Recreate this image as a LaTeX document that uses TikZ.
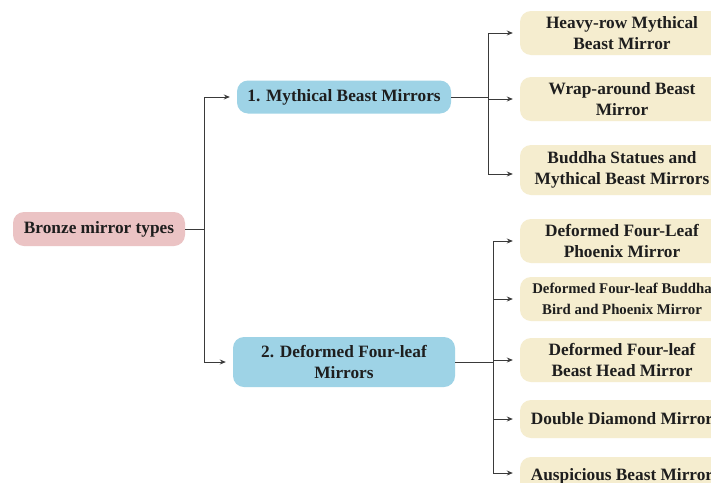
\documentclass[tikz,border=0pt]{standalone}
\usepackage{fontspec}
\setmainfont{Liberation Serif}
\usetikzlibrary{arrows.meta}
\definecolor{pinkbox}{HTML}{EBC3C4}
\definecolor{bluebox}{HTML}{9ED3E6}
\definecolor{beigebox}{HTML}{F5EDCF}
\definecolor{linecol}{HTML}{3A3A3A}
\definecolor{textcol}{HTML}{1E1E1E}
\begin{document}
\begin{tikzpicture}[x=1pt,y=-1pt,
  box/.style={rounded corners=11pt, inner sep=0pt, align=center, text=textcol,
    font=\fontsize{17.3}{21}\selectfont\bfseries},
  rootbox/.style={box, fill=pinkbox, minimum width=172pt, minimum height=34pt},
  midbox/.style={box, fill=bluebox, minimum width=214pt},
  leafbox/.style={box, fill=beigebox, minimum width=204pt, minimum height=44pt},
  conn/.style={draw=linecol, line width=0.9pt},
  arr/.style={conn, -{Stealth[length=6pt,width=5pt]}, shorten >=7pt}]
\useasboundingbox (0,0) rectangle (711,482);
\clip (0,0) rectangle (711,482);
\fill[white] (0,0) rectangle (711,482);

\node[rootbox] (root) at (99,229) {Bronze mirror types};
\node[midbox, minimum height=33pt] (m1) at (344,97) {1. Mythical Beast Mirrors};
\node[midbox, minimum width=222pt, minimum height=50pt] (m2) at (344,362) {2. Deformed Four-leaf\\Mirrors};

\node[leafbox] (a1) at (622,33) {Heavy-row Mythical\\Beast Mirror};
\node[leafbox] (a2) at (622,99) {Wrap-around Beast\\Mirror};
\node[leafbox, minimum height=50pt] (a3) at (622,170) {Buddha Statues and\\Mythical Beast Mirrors};

\node[leafbox] (b1) at (622,241) {Deformed Four-Leaf\\Phoenix Mirror};
\node[leafbox, font=\fontsize{14.8}{21}\selectfont\bfseries] (b2) at (622,299) {Deformed Four-leaf Buddha\\Bird and Phoenix Mirror};
\node[leafbox] (b3) at (622,360) {Deformed Four-leaf\\Beast Head Mirror};
\node[leafbox, minimum height=38pt] (b4) at (622,419) {Double Diamond Mirror};
\node[leafbox, minimum height=38pt] (b5) at (622,476) {Auspicious Beast Mirror};

% root level
\coordinate (j0) at (204,229);
\draw[conn] (root.east) -- (j0);
\draw[conn] (j0|-m1.west) -- (j0|-m2.west);
\draw[arr] (j0|-m1.west) -- (m1.west);
\draw[arr] (j0|-m2.west) -- (m2.west);

% group 1
\coordinate (j1) at (488,97);
\coordinate (e1) at (488,174);
\draw[conn] (m1.east) -- (j1);
\draw[conn] (j1|-a1.west) -- (e1);
\draw[arr] (j1|-a1.west) -- (a1.west);
\draw[arr] (j1|-a2.west) -- (a2.west);
\draw[arr] (e1) -- (a3.west|-e1);

% group 2
\coordinate (j2) at (493,362);
\coordinate (e2) at (493,473);
\draw[conn] (m2.east) -- (j2);
\draw[conn] (j2|-b1.west) -- (e2);
\draw[arr] (j2|-b1.west) -- (b1.west);
\draw[arr] (j2|-b2.west) -- (b2.west);
\draw[arr] (j2|-b3.west) -- (b3.west);
\draw[arr] (j2|-b4.west) -- (b4.west);
\draw[arr] (e2) -- (b5.west|-e2);
\end{tikzpicture}
\end{document}
